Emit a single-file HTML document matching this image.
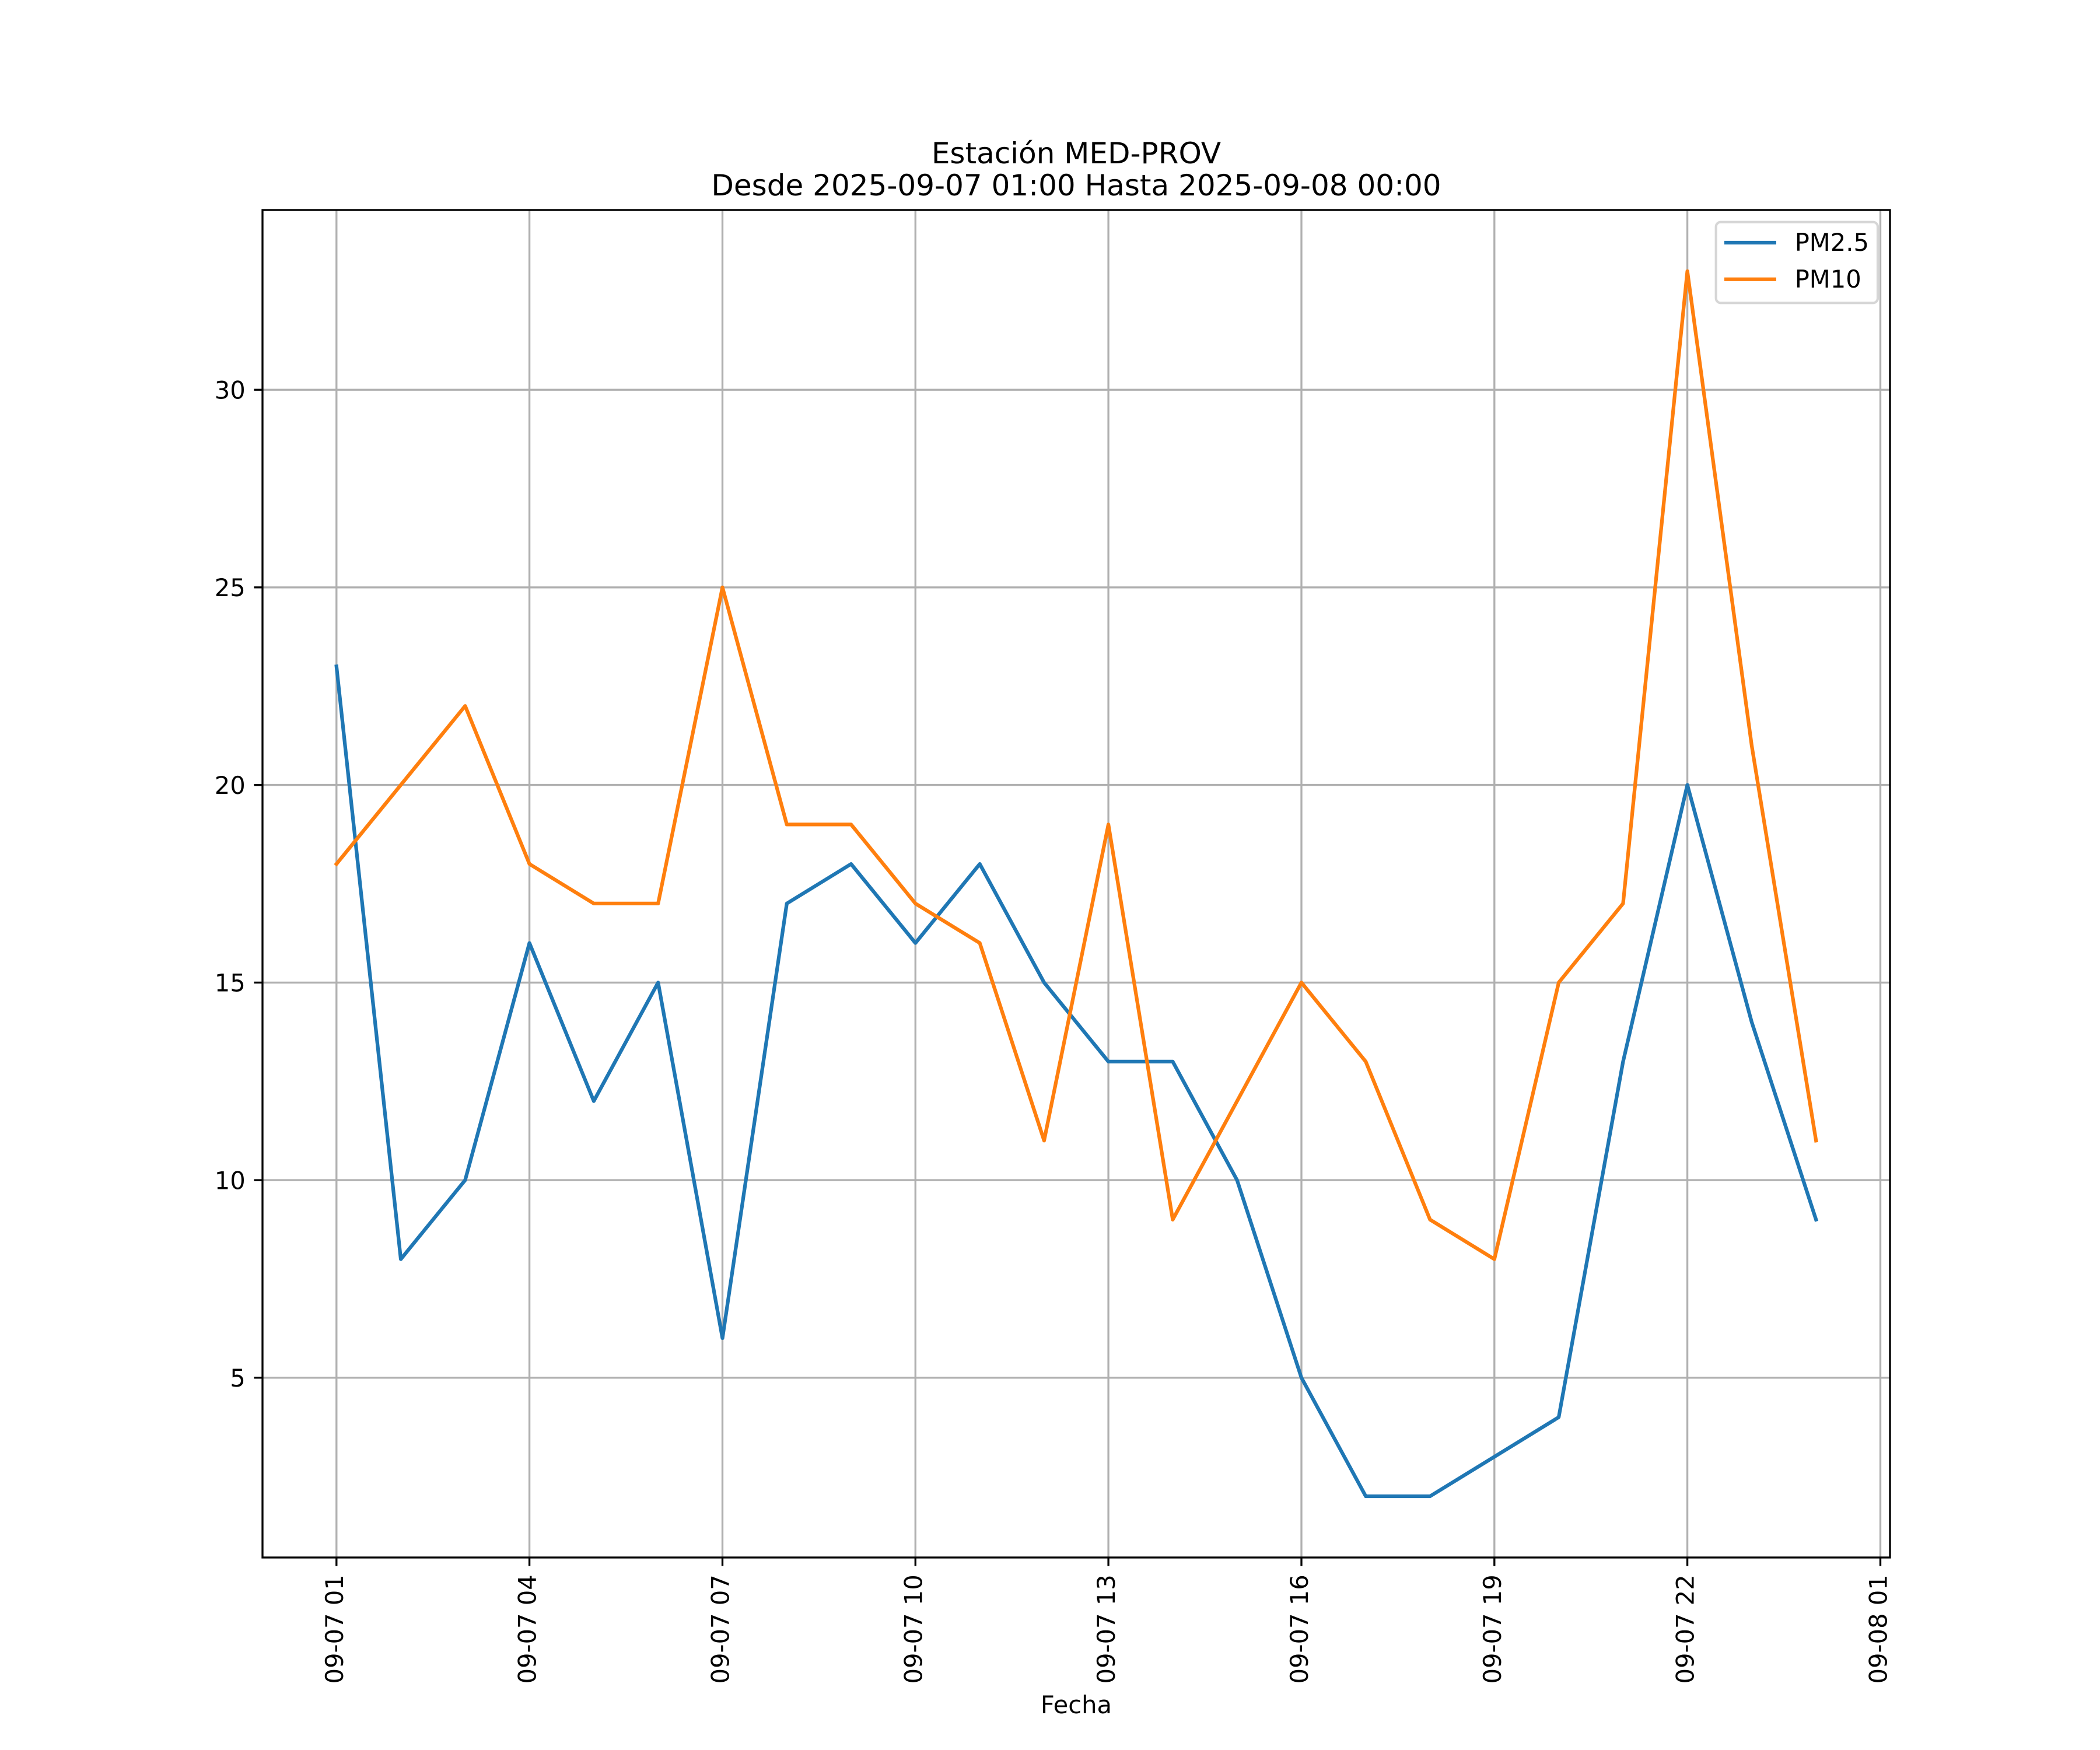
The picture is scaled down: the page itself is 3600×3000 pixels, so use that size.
<!DOCTYPE html>
<html><head><meta charset="utf-8"><style>
html,body{margin:0;padding:0;background:#fff;}
svg{display:block;}
text{font-family:"DejaVu Sans","Liberation Sans",sans-serif;fill:#000;}
</style></head><body>
<svg width="3600" height="3000" viewBox="0 0 3600 3000" xmlns="http://www.w3.org/2000/svg">
<rect width="3600" height="3000" fill="#fff"/>
<!-- grid -->
<g stroke="#b0b0b0" stroke-width="3.33" fill="none">
<line x1="576.8" y1="360" x2="576.8" y2="2670"/>
<line x1="907.6" y1="360" x2="907.6" y2="2670"/>
<line x1="1238.5" y1="360" x2="1238.5" y2="2670"/>
<line x1="1569.3" y1="360" x2="1569.3" y2="2670"/>
<line x1="1900.1" y1="360" x2="1900.1" y2="2670"/>
<line x1="2231.0" y1="360" x2="2231.0" y2="2670"/>
<line x1="2561.8" y1="360" x2="2561.8" y2="2670"/>
<line x1="2892.6" y1="360" x2="2892.6" y2="2670"/>
<line x1="3223.5" y1="360" x2="3223.5" y2="2670"/>
<line x1="450" y1="2361.8" x2="3240" y2="2361.8"/>
<line x1="450" y1="2023.1" x2="3240" y2="2023.1"/>
<line x1="450" y1="1684.4" x2="3240" y2="1684.4"/>
<line x1="450" y1="1345.6" x2="3240" y2="1345.6"/>
<line x1="450" y1="1006.9" x2="3240" y2="1006.9"/>
<line x1="450" y1="668.2" x2="3240" y2="668.2"/>
</g>
<!-- series -->
<polyline fill="none" stroke="#1f77b4" stroke-width="6.25" stroke-linejoin="round" stroke-linecap="square" points="576.8,1142.4 687.1,2158.6 797.4,2023.1 907.6,1616.6 1017.9,1887.6 1128.2,1684.4 1238.5,2294.0 1348.8,1548.9 1459.0,1481.1 1569.3,1616.6 1679.6,1481.1 1789.9,1684.4 1900.1,1819.9 2010.4,1819.9 2120.7,2023.1 2231.0,2361.8 2341.3,2565.0 2451.5,2565.0 2561.8,2497.3 2672.1,2429.5 2782.4,1819.9 2892.6,1345.6 3002.9,1752.1 3113.2,2090.8"/>
<polyline fill="none" stroke="#ff7f0e" stroke-width="6.25" stroke-linejoin="round" stroke-linecap="square" points="576.8,1481.1 687.1,1345.6 797.4,1210.2 907.6,1481.1 1017.9,1548.9 1128.2,1548.9 1238.5,1006.9 1348.8,1413.4 1459.0,1413.4 1569.3,1548.9 1679.6,1616.6 1789.9,1955.3 1900.1,1413.4 2010.4,2090.8 2120.7,1887.6 2231.0,1684.4 2341.3,1819.9 2451.5,2090.8 2561.8,2158.6 2672.1,1684.4 2782.4,1548.9 2892.6,464.9 3002.9,1277.9 3113.2,1955.3"/>
<!-- spines -->
<rect x="450" y="360" width="2790" height="2310" fill="none" stroke="#000" stroke-width="3.33" stroke-linejoin="miter"/>
<!-- ticks -->
<g stroke="#000" stroke-width="3.33">
<line x1="576.8" y1="2670" x2="576.8" y2="2684.6"/>
<line x1="907.6" y1="2670" x2="907.6" y2="2684.6"/>
<line x1="1238.5" y1="2670" x2="1238.5" y2="2684.6"/>
<line x1="1569.3" y1="2670" x2="1569.3" y2="2684.6"/>
<line x1="1900.1" y1="2670" x2="1900.1" y2="2684.6"/>
<line x1="2231.0" y1="2670" x2="2231.0" y2="2684.6"/>
<line x1="2561.8" y1="2670" x2="2561.8" y2="2684.6"/>
<line x1="2892.6" y1="2670" x2="2892.6" y2="2684.6"/>
<line x1="3223.5" y1="2670" x2="3223.5" y2="2684.6"/>
<line x1="435.4" y1="2361.8" x2="450" y2="2361.8"/>
<line x1="435.4" y1="2023.1" x2="450" y2="2023.1"/>
<line x1="435.4" y1="1684.4" x2="450" y2="1684.4"/>
<line x1="435.4" y1="1345.6" x2="450" y2="1345.6"/>
<line x1="435.4" y1="1006.9" x2="450" y2="1006.9"/>
<line x1="435.4" y1="668.2" x2="450" y2="668.2"/>
</g>
<!-- y tick labels -->
<g font-size="41.67" text-anchor="end">
<text x="420.8" y="2377">5</text>
<text x="420.8" y="2038.3">10</text>
<text x="420.8" y="1699.6">15</text>
<text x="420.8" y="1360.8">20</text>
<text x="420.8" y="1022.1">25</text>
<text x="420.8" y="683.4">30</text>
</g>
<!-- x tick labels -->
<g font-size="41.67" text-anchor="end">
<text transform="translate(587.8,2699.2) rotate(-90)">09-07 01</text>
<text transform="translate(918.6,2699.2) rotate(-90)">09-07 04</text>
<text transform="translate(1249.5,2699.2) rotate(-90)">09-07 07</text>
<text transform="translate(1580.3,2699.2) rotate(-90)">09-07 10</text>
<text transform="translate(1911.1,2699.2) rotate(-90)">09-07 13</text>
<text transform="translate(2242.0,2699.2) rotate(-90)">09-07 16</text>
<text transform="translate(2572.8,2699.2) rotate(-90)">09-07 19</text>
<text transform="translate(2903.6,2699.2) rotate(-90)">09-07 22</text>
<text transform="translate(3234.5,2699.2) rotate(-90)">09-08 01</text>
</g>
<!-- axis label -->
<text x="1845" y="2937" font-size="41.67" text-anchor="middle">Fecha</text>
<!-- title -->
<text x="1845" y="280" font-size="50" text-anchor="middle">Estación MED-PROV</text>
<text x="1845" y="335" font-size="50" text-anchor="middle">Desde 2025-09-07 01:00 Hasta 2025-09-08 00:00</text>
<!-- legend -->
<rect x="2941.7" y="380.7" width="277.3" height="138.6" rx="8" ry="8" fill="#fff" fill-opacity="0.8" stroke="#d6d6d6" stroke-width="4.17"/>
<line x1="2956" y1="416" x2="3045" y2="416" stroke="#1f77b4" stroke-width="6.25" stroke-linecap="butt"/>
<line x1="2956" y1="478.7" x2="3045" y2="478.7" stroke="#ff7f0e" stroke-width="6.25" stroke-linecap="butt"/>
<text x="3076.7" y="430" font-size="41.67">PM2.5</text>
<text x="3076.7" y="493" font-size="41.67">PM10</text>
</svg>
</body></html>
